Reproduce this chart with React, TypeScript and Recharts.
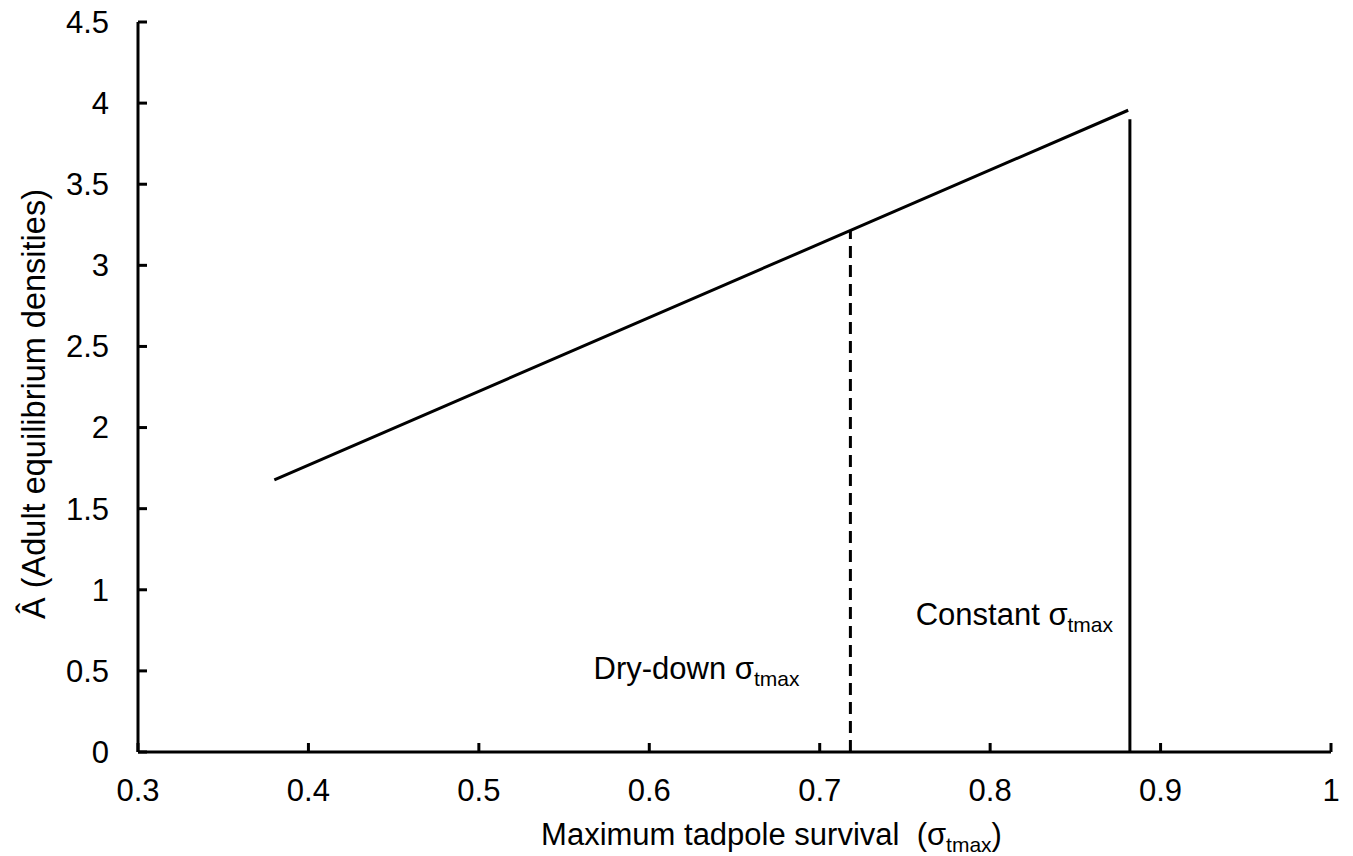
import React from 'react';
import {
  LineChart,
  Line,
  XAxis,
  YAxis,
  ReferenceDot,
} from 'recharts';

// values
const survivalX = [0.38, 0.881];
const adultDensity = [1.678, 3.956];

const dryDownX = [0.718, 0.718];
const dryDownY = [0, 3.215];

const constantX = [0.882, 0.882];
const constantY = [0, 3.9];

const xTicks = [0.3, 0.4, 0.5, 0.6, 0.7, 0.8, 0.9, 1];
const yTicks = [0, 0.5, 1, 1.5, 2, 2.5, 3, 3.5, 4, 4.5];

const FONT = '"Liberation Sans", Arial, sans-serif';
const TICK_LEN = 9;

const toPoints = (xs: number[], ys: number[]) =>
  xs.map((x, i) => ({ x, y: ys[i] }));

const mainLine = toPoints(survivalX, adultDensity);
const dryDownLine = toPoints(dryDownX, dryDownY);
const constantLine = toPoints(constantX, constantY);

const XTick = (props: any) => {
  const { x, y, payload } = props;
  return (
    <g>
      <line x1={x} y1={y} x2={x} y2={y - TICK_LEN} stroke="#000" strokeWidth={3} />
      <text x={x} y={y + 49} textAnchor="middle" fontSize={31} fontFamily={FONT} fill="#000">
        {String(payload.value)}
      </text>
    </g>
  );
};

const YTick = (props: any) => {
  const { x, y, payload } = props;
  return (
    <g>
      <line x1={x} y1={y} x2={x + TICK_LEN} y2={y} stroke="#000" strokeWidth={3} />
      <text x={x - 29} y={y} dy="0.35em" textAnchor="end" fontSize={31} fontFamily={FONT} fill="#000">
        {String(payload.value)}
      </text>
    </g>
  );
};

const sigmaLabel = (prefix: string) => (props: any) => {
  const vb = props.viewBox || {};
  return (
    <text x={vb.x} y={vb.y} fontSize={31} fontFamily={FONT} fill="#000">
      {prefix}σ
      <tspan fontSize={21} dy={7}>tmax</tspan>
    </text>
  );
};

const XTitle = (props: any) => {
  const vb = props.viewBox || {};
  const cx = vb.x + vb.width / 2 + 37;
  return (
    <text x={cx} y={845} textAnchor="middle" fontSize={31} fontFamily={FONT} fill="#000" xmlSpace="preserve">
      {'Maximum tadpole survival  (σ'}
      <tspan fontSize={21} dy={7}>tmax</tspan>
      <tspan dy={-7}>)</tspan>
    </text>
  );
};

const YTitle = (props: any) => {
  const vb = props.viewBox || {};
  const cy = vb.y + vb.height / 2 + 17;
  return (
    <text
      x={45}
      y={cy}
      transform={`rotate(-90, 45, ${cy})`}
      textAnchor="middle"
      fontSize={32.5}
      fontFamily={FONT}
      fill="#000"
    >
      Â (Adult equilibrium densities)
    </text>
  );
};

export default function App() {
  return (
    <div style={{ position: 'absolute', left: 0, top: 0, width: 1353, height: 856, background: '#fff' }}>
      <LineChart
        width={1353}
        height={856}
        margin={{ top: 22, right: 22, bottom: 44, left: 58 }}
      >
        <XAxis
          type="number"
          dataKey="x"
          domain={[0.3, 1]}
          ticks={xTicks}
          allowDataOverflow
          height={60}
          axisLine={{ stroke: '#000', strokeWidth: 3 }}
          tickLine={false}
          tickSize={0}
          tickMargin={0}
          tick={<XTick />}
          interval={0}
          label={<XTitle />}
        />
        <YAxis
          type="number"
          dataKey="y"
          domain={[0, 4.5]}
          ticks={yTicks}
          allowDataOverflow
          width={80}
          axisLine={{ stroke: '#000', strokeWidth: 3 }}
          tickLine={false}
          tickSize={0}
          tickMargin={0}
          tick={<YTick />}
          interval={0}
          label={<YTitle />}
        />
        <Line
          data={mainLine}
          dataKey="y"
          stroke="#000"
          strokeWidth={3}
          dot={false}
          activeDot={false}
          isAnimationActive={false}
        />
        <Line
          data={dryDownLine}
          dataKey="y"
          stroke="#000"
          strokeWidth={3}
          strokeDasharray="12 7"
          dot={false}
          activeDot={false}
          isAnimationActive={false}
        />
        <Line
          data={constantLine}
          dataKey="y"
          stroke="#000"
          strokeWidth={3}
          dot={false}
          activeDot={false}
          isAnimationActive={false}
        />
        <ReferenceDot
          x={0.5676}
          y={0.444}
          r={0.5}
          fill="none"
          stroke="none"
          label={sigmaLabel('Dry-down ')}
        />
        <ReferenceDot
          x={0.7566}
          y={0.777}
          r={0.5}
          fill="none"
          stroke="none"
          label={sigmaLabel('Constant ')}
        />
      </LineChart>
    </div>
  );
}
